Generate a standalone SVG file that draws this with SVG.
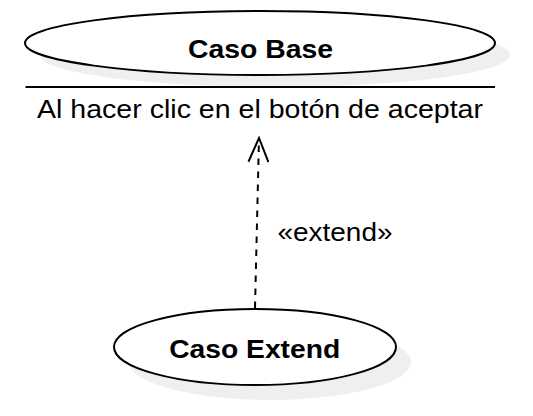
<svg xmlns="http://www.w3.org/2000/svg" width="533" height="416" viewBox="0 0 533 416">
  <style>
    .shadow { fill: #efefef; stroke: none; }
    .usecase { fill: #ffffff; stroke: #000000; stroke-width: 2; }
    .title { font-family: "Liberation Sans", Arial, sans-serif; font-size: 25.5px; font-weight: bold; fill: #000000; }
    .label { font-family: "Liberation Sans", Arial, sans-serif; font-size: 26px; fill: #000000; }
    .sep { stroke: #000000; stroke-width: 2; }
    .dep { fill: none; stroke: #000000; stroke-width: 2; stroke-dasharray: 6.5 6.5; }
  </style>
  <defs>
    <marker id="open-arrow" viewBox="0 0 27 22" refX="25" refY="11" markerWidth="27" markerHeight="22" markerUnits="userSpaceOnUse" orient="auto">
      <path d="M1,1 L25,11 L1,21" fill="none" stroke="#000000" stroke-width="2" stroke-dasharray="none"/>
    </marker>
  </defs>
  <rect width="533" height="416" fill="#ffffff"/>

  <g id="caso-base">
    <ellipse class="shadow" cx="275" cy="55" rx="235" ry="32"/>
    <ellipse class="usecase" cx="260" cy="43" rx="235" ry="32"/>
    <text class="title" x="260.5" y="58" text-anchor="middle" textLength="145" lengthAdjust="spacingAndGlyphs">Caso Base</text>
  </g>

  <g id="condicion">
    <line class="sep" x1="25.5" y1="87" x2="495" y2="87"/>
    <text class="label" x="260" y="117.5" text-anchor="middle" textLength="446" lengthAdjust="spacingAndGlyphs">Al hacer clic en el botón de aceptar</text>
  </g>

  <g id="caso-extend">
    <ellipse class="shadow" cx="270" cy="362" rx="141" ry="38"/>
    <ellipse class="usecase" cx="255" cy="347" rx="141" ry="38"/>
    <text class="title" x="254.7" y="357.5" text-anchor="middle" textLength="171" lengthAdjust="spacingAndGlyphs">Caso Extend</text>
  </g>

  <g id="connectors">
    <line class="dep" x1="255" y1="308" x2="259" y2="138" marker-end="url(#open-arrow)"/>
    <text class="label" x="335" y="240.5" text-anchor="middle" textLength="115" lengthAdjust="spacingAndGlyphs">«extend»</text>
  </g>
</svg>
